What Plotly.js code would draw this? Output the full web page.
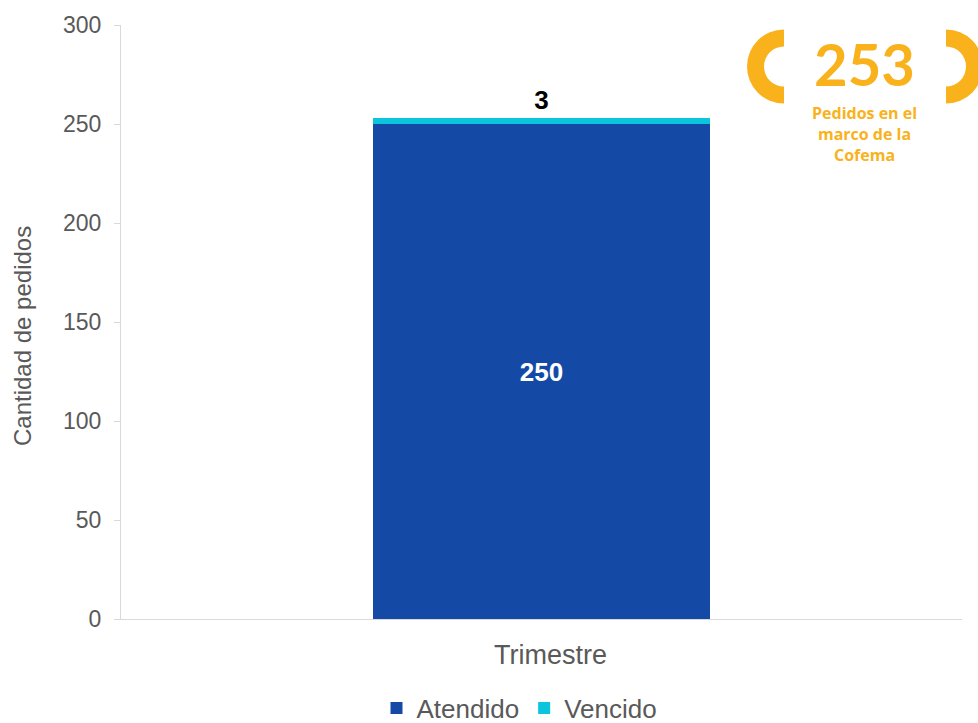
<!DOCTYPE html>
<html>
<head>
<meta charset="utf-8">
<script src="https://cdn.plot.ly/plotly-3.0.1.min.js"></script>
<style>html,body{margin:0;padding:0;background:#fff;}#chart{width:978px;height:723px;}</style>
</head>
<body>
<div id="chart"></div>
<script>
const categories = ['Trimestre'];
const atendido = [250];
const vencido = [3];
const seriesNames = ['Atendido', 'Vencido'];
const totalPedidos = 253;
const badgeText = 'Pedidos en el<br>marco de la<br>Cofema';
const yTitle = 'Cantidad de pedidos';

const blue = '#144AA6';
const cyan = '#0BC5DC';
const orange = '#F9B21B';
const gray = '#595959';
const F = 'Liberation Sans, Arial, sans-serif';

const traces = [
  {
    type: 'bar', name: seriesNames[0], x: categories, y: atendido,
    marker: {color: blue},
    text: atendido.map(v => '<b>' + v + '</b>'), textposition: 'inside', insidetextanchor: 'middle',
    textfont: {color: '#ffffff', size: 26, family: F},
    hoverinfo: 'skip'
  },
  {
    type: 'bar', name: seriesNames[1], x: categories, y: vencido,
    marker: {color: cyan},
    text: vencido.map(v => '<b>' + v + '</b>'), textposition: 'outside',
    textfont: {color: '#000000', size: 26, family: F},
    cliponaxis: false, hoverinfo: 'skip'
  }
];

function halfRing(cx, cy, R, r, side) {
  const s = side;
  return 'M ' + cx + ' ' + (cy - R) +
    ' A ' + R + ' ' + R + ' 0 0 ' + (s < 0 ? 0 : 1) + ' ' + cx + ' ' + (cy + R) +
    ' L ' + cx + ' ' + (cy + r) +
    ' A ' + r + ' ' + r + ' 0 0 ' + (s < 0 ? 1 : 0) + ' ' + cx + ' ' + (cy - r) + ' Z';
}

const px = x => (x - 121) / 841;
const py = y => 1 - (y - 25) / 594;

const annotations = [
  {xref: 'paper', yref: 'paper', x: px(864), y: py(64), xanchor: 'center', yanchor: 'middle',
   text: '<b>' + totalPedidos + '</b>', showarrow: false,
   font: {size: 58, color: orange, family: 'Lato, Open Sans, sans-serif'}},
  {xref: 'paper', yref: 'paper', x: px(864), y: py(134), xanchor: 'center', yanchor: 'middle',
   text: '<b>' + badgeText + '</b>', showarrow: false,
   font: {size: 16, color: orange, family: 'Open Sans, sans-serif'}},
  {xref: 'paper', yref: 'paper', x: px(22), y: py(336), xanchor: 'center', yanchor: 'middle',
   text: yTitle, textangle: -90, showarrow: false,
   font: {size: 24, color: gray, family: F}},
  {xref: 'paper', yref: 'paper', x: px(550), y: py(655), xanchor: 'center', yanchor: 'middle',
   text: categories[0], showarrow: false,
   font: {size: 27, color: gray, family: F}}
];

const layout = {
  width: 978, height: 723,
  margin: {l: 121, r: 16, t: 25, b: 104, autoexpand: false},
  paper_bgcolor: '#ffffff', plot_bgcolor: '#ffffff',
  font: {family: F, color: gray},
  barmode: 'stack', bargap: 0.6,
  showlegend: true,
  legend: {orientation: 'h', x: 0.5 - 22 / 841, xanchor: 'center', xref: 'paper', y: -(708 - 619) / 594, yanchor: 'middle',
           font: {size: 26, color: gray}, traceorder: 'normal', itemwidth: 30},
  xaxis: {
    showline: true, linecolor: '#d9d9d9', linewidth: 1, ticks: '', showgrid: false, zeroline: false,
    showticklabels: false, fixedrange: true
  },
  yaxis: {
    range: [0, 300], dtick: 50, showline: true, linecolor: '#d9d9d9', linewidth: 1,
    ticks: 'outside', ticklen: 6, tickcolor: '#d9d9d9', showgrid: false, zeroline: false,
    tickfont: {size: 23, color: gray}, ticklabelstandoff: 8,
    fixedrange: true
  },
  annotations: annotations
};

Plotly.newPlot('chart', traces, layout, {displayModeBar: false, staticPlot: true}).then(function (gd) {
  const svgs = gd.querySelectorAll('svg.main-svg');
  const svg = svgs[svgs.length - 1];
  const ns = 'http://www.w3.org/2000/svg';
  const g = document.createElementNS(ns, 'g');
  [[784, 66.5, -1], [946, 66.5, 1]].forEach(function (p) {
    const path = document.createElementNS(ns, 'path');
    path.setAttribute('d', halfRing(p[0], p[1], 37, 20, p[2]));
    path.setAttribute('fill', orange);
    g.appendChild(path);
  });
  svg.appendChild(g);
});
</script>
</body>
</html>
